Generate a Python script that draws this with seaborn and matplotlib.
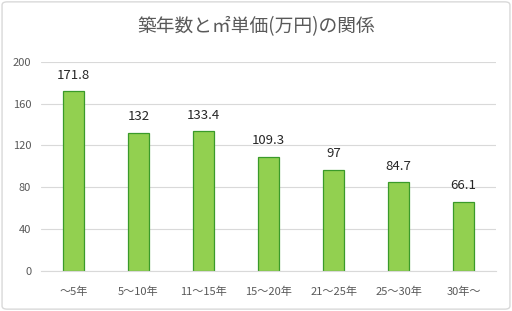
import matplotlib
matplotlib.use("Agg")
import matplotlib.pyplot as plt
import seaborn as sns
import pandas as pd
from matplotlib.patches import FancyBboxPatch

categories = ["～5年", "5～10年", "11～15年", "15～20年", "21～25年", "25～30年", "30年～"]
values = [171.8, 132, 133.4, 109.3, 97, 84.7, 66.1]
value_labels = ["171.8", "132", "133.4", "109.3", "97", "84.7", "66.1"]
yticks = [0, 40, 80, 120, 160, 200]
title = "築年数と㎡単価(万円)の関係"

sns.set_style("white")
plt.rcParams['font.family'] = ['Noto Sans CJK JP', 'DejaVu Sans']

df = pd.DataFrame({"cat": categories, "val": values})

fig = plt.figure(figsize=(5.12, 3.11), dpi=100)
border = FancyBboxPatch((0.004, 0.006), 0.992, 0.988, boxstyle="round,pad=0,rounding_size=0.01",
                        transform=fig.transFigure, facecolor="none", edgecolor="#d9d9d9",
                        linewidth=1.0, zorder=-1)
fig.patches.append(border)

ax = fig.add_axes([0.08, 0.129, 0.889, 0.672])
sns.barplot(data=df, x="cat", y="val", ax=ax, color="#92D050", width=0.33,
            edgecolor="#3A9A2A", linewidth=0.9, saturation=1)
ax.set_ylim(0, 200)
ax.set_yticks(yticks)
ax.set_xlim(-0.5, len(categories) - 0.5)
ax.yaxis.grid(True, color="#d9d9d9", linewidth=0.8)
ax.set_axisbelow(True)
for s in ["top", "right", "left"]:
    ax.spines[s].set_visible(False)
ax.spines["bottom"].set_color("#d9d9d9")
ax.set_xlabel("")
ax.set_ylabel("")
ax.tick_params(axis="both", length=0, labelsize=8, colors="#595959", pad=7)
ax.tick_params(axis="x", pad=11)
ax.patch.set_alpha(0)

for container in ax.containers:
    ax.bar_label(container, labels=value_labels, padding=7, fontsize=9.5, color="#262626")

fig.text(0.5, 0.915, title, ha="center", va="center", fontsize=13.5, color="#595959")

fig.savefig("out.png", dpi=100)
